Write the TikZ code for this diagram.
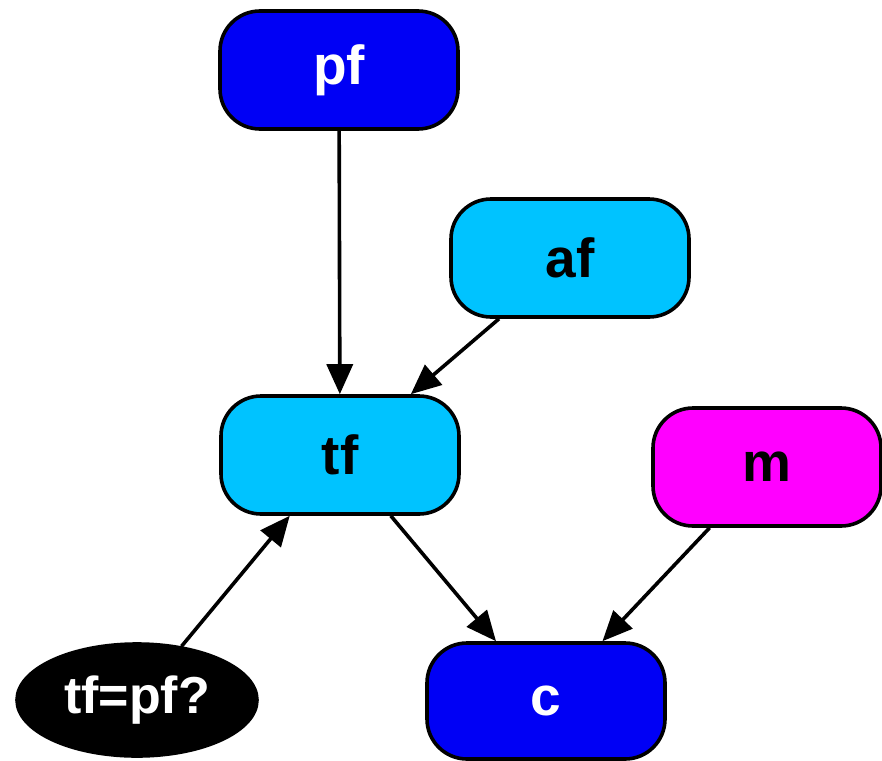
\documentclass[tikz,border=0pt]{standalone}
\usepackage{fontspec}
\setmainfont{Liberation Sans}
\usetikzlibrary{arrows.meta,shapes.geometric}
\definecolor{nodeblue}{RGB}{0,0,245}
\definecolor{nodecyan}{RGB}{0,195,255}
\definecolor{nodemagenta}{RGB}{255,0,255}
\tikzset{
  x=1pt, y=-1pt,
  box/.style={draw=black, line width=3.6pt, rounded corners=40pt,
    minimum width=238pt, minimum height=118pt, inner sep=0pt,
    font=\fontsize{55}{60}\selectfont\bfseries},
  darkbox/.style={box, fill=nodeblue, text=white},
  lightbox/.style={box, fill=nodecyan, text=black},
  pinkbox/.style={box, fill=nodemagenta, text=black},
  test/.style={ellipse, draw=black, fill=black, text=white, line width=3.6pt,
    minimum width=240pt, minimum height=112pt, inner sep=0pt,
    font=\fontsize{52}{60}\selectfont\bfseries},
  link/.style={line width=3.6pt, -{Triangle[length=30pt,width=26pt]}}
}
\begin{document}
\begin{tikzpicture}
\useasboundingbox (0,0) rectangle (882,760);
\node[darkbox] (pf) at (339,70) {pf};
\node[lightbox] (af) at (570,258) {af};
\node[lightbox] (tf) at (340,455) {tf};
\node[pinkbox, minimum width=228pt] (m) at (767,467) {m};
\node[darkbox, minimum height=116pt] (c) at (546,701) {c};
\node[test] (q) at (137,700) {tf=pf?};
\draw[link] (pf) -- (tf);
\draw[link] (af) -- (tf);
\draw[link] (q) -- (tf);
\draw[link] (tf) -- (c);
\draw[link] (m) -- (c);
\end{tikzpicture}
\end{document}
